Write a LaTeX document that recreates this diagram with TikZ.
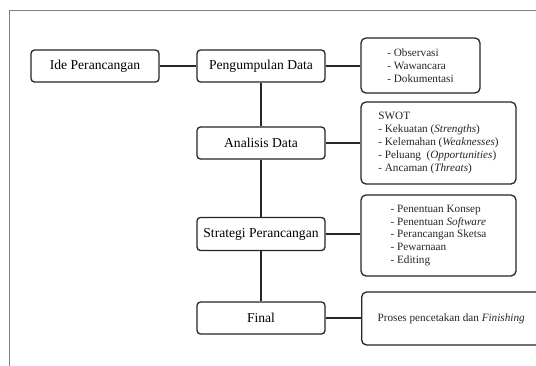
\documentclass[tikz,border=0pt]{standalone}
\usepackage{fontspec}
\setmainfont{Liberation Serif}
\begin{document}
\begin{tikzpicture}[x=1pt,y=-1pt,
  mainbox/.style={draw=black!85, line width=1.3pt, rounded corners=3.5pt, minimum width=128pt, minimum height=32pt, inner sep=0pt, font=\fontsize{13.6}{15}\selectfont},
  sidebox/.style={draw=black!85, line width=1.3pt, rounded corners=5pt, inner sep=0pt, align=left, text=black!85, font=\fontsize{11.2}{12.9}\selectfont},
  conn/.style={draw=black!85, line width=1.3pt}]
\useasboundingbox (0,0) rectangle (536,365);
\clip (0,0) rectangle (536,365);
\fill[white] (0,0) rectangle (536,365);
\draw[gray, line width=0.9pt] (9.5,10.5) rectangle (600,420);
% main column
\node[mainbox] (idea) at (95,66) {Ide Perancangan};
\node[mainbox] (pd) at (261,66) {Pengumpulan Data};
\node[mainbox] (ad) at (261,143) {Analisis Data};
\node[mainbox, minimum height=33pt] (sp) at (261,234) {Strategi Perancangan};
\node[mainbox] (fin) at (261,318) {Final};
% side boxes
\node[sidebox, minimum width=119pt, minimum height=55pt] (r1) at (420.5,65.5) {- Observasi\\- Wawancara\\- Dokumentasi};
\node[sidebox, minimum width=155pt, minimum height=82pt] (r2) at (438.5,143) {SWOT\\- Kekuatan (\textit{Strengths})\\- Kelemahan (\textit{Weaknesses})\\- Peluang~ (\textit{Opportunities})\\- Ancaman (\textit{Threats})};
\node[sidebox, minimum width=155pt, minimum height=81pt] (r3) at (438.5,235.5) {- Penentuan Konsep\\- Penentuan \textit{Software}\\- Perancangan Sketsa\\- Pewarnaan\\- Editing};
\node[sidebox, minimum width=190pt, minimum height=53pt, anchor=west] (r4) at (361,318.5) {Proses pencetakan dan \textit{Finishing}\hspace*{11pt}};
% connectors
\draw[conn] (idea.east) -- (pd.west);
\draw[conn] (pd.south) -- (ad.north);
\draw[conn] (ad.south) -- (sp.north);
\draw[conn] (sp.south) -- (fin.north);
\draw[conn] (pd.east) -- (pd.east -| r1.west);
\draw[conn] (ad.east) -- (ad.east -| r2.west);
\draw[conn] (sp.east) -- (sp.east -| r3.west);
\draw[conn] (fin.east) -- (fin.east -| r4.west);
\end{tikzpicture}
\end{document}
